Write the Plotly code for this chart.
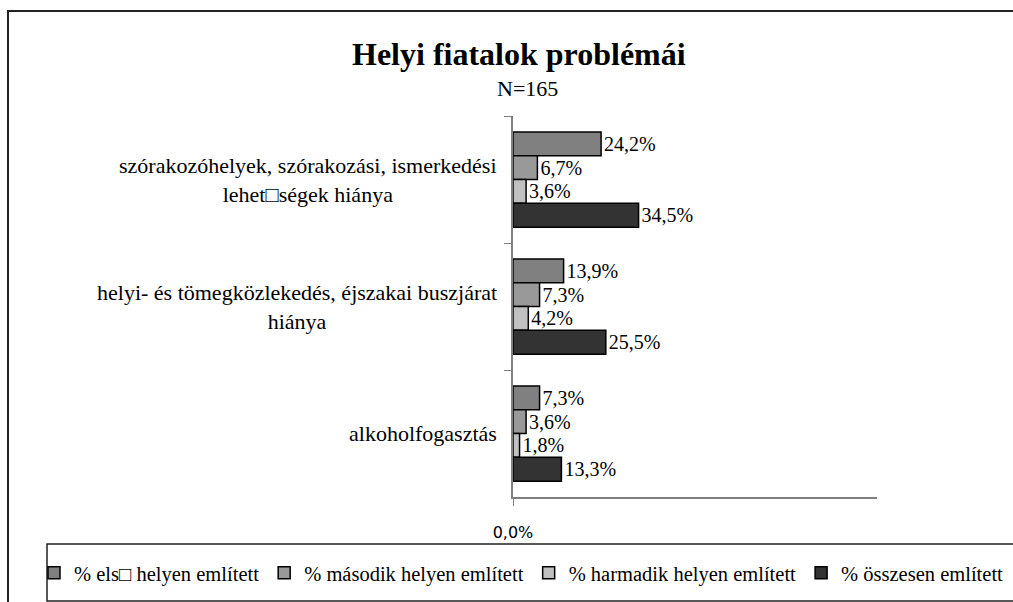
import plotly.graph_objects as go

W, H = 1013, 602

categories = [
    "szórakozóhelyek, szórakozási, ismerkedési<br>lehet□ségek hiánya",
    "helyi- és tömegközlekedés, éjszakai buszjárat<br>hiánya",
    "alkoholfogasztás",
]
series_names = [
    "% els□ helyen említett",
    "% második helyen említett",
    "% harmadik helyen említett",
    "% összesen említett",
]
first_place = [24.2, 13.9, 7.3]
second_place = [6.7, 7.3, 3.6]
third_place = [3.6, 4.2, 1.8]
total = [34.5, 25.5, 13.3]

series_values = [first_place, second_place, third_place, total]
colors = ["#808080", "#999999", "#c0c0c0", "#333333"]

SERIF = "Liberation Serif, serif"


def px_x(x):
    return x / W


def px_y(y):
    return 1 - y / H


fig = go.Figure()
for name, vals, col in zip(series_names, series_values, colors):
    fig.add_trace(
        go.Bar(
            y=categories,
            x=vals,
            name=name,
            orientation="h",
            marker=dict(color=col, line=dict(color="black", width=1.5)),
            texttemplate="%{x:.1f}%",
            textposition="outside",
            constraintext="none",
            cliponaxis=False,
            textfont=dict(family=SERIF, size=20, color="black"),
            hoverinfo="skip",
        )
    )

# category labels, centred lines, right-aligned against the axis
for cat in categories:
    fig.add_annotation(
        x=px_x(499), xref="paper", xanchor="right",
        y=cat, yref="y", yanchor="middle",
        text=cat, showarrow=False, align="center",
        font=dict(family=SERIF, size=22, color="black"),
    )

fig.add_annotation(
    x=px_x(519), xref="paper", xanchor="center",
    y=px_y(54), yref="paper", yanchor="middle",
    text="<b>Helyi fiatalok problémái</b>", showarrow=False,
    font=dict(family=SERIF, size=32, color="black"),
)
fig.add_annotation(
    x=px_x(527), xref="paper", xanchor="center",
    y=px_y(88), yref="paper", yanchor="middle",
    text="N=165", showarrow=False,
    font=dict(family=SERIF, size=22, color="black"),
)

# outer frame and legend box
fig.add_shape(type="rect", xref="paper", yref="paper",
              x0=px_x(8), x1=px_x(1040), y0=px_y(11), y1=px_y(640),
              line=dict(color="#222222", width=2), layer="below")
fig.add_shape(type="rect", xref="paper", yref="paper",
              x0=px_x(47), x1=px_x(1040), y0=px_y(544), y1=px_y(601),
              line=dict(color="#222222", width=1.5), layer="below")

fig.update_layout(
    width=W, height=H,
    margin=dict(l=0, r=0, t=0, b=0, pad=0),
    paper_bgcolor="white", plot_bgcolor="white",
    barmode="group", bargap=0.25, bargroupgap=0,
    separators=", ",
    showlegend=True,
    legend=dict(
        orientation="h", x=px_x(34), xanchor="left",
        y=px_y(573), yanchor="middle",
        font=dict(family=SERIF, size=20.5, color="black"),
        traceorder="normal", bgcolor="rgba(0,0,0,0)",
        itemwidth=30, tracegroupgap=0,
    ),
)
fig.update_xaxes(
    domain=[px_x(513), px_x(877)], range=[0, 100],
    automargin=False,
    showgrid=False, zeroline=False,
    showline=True, linecolor="#808080", linewidth=1.5,
    tickvals=[0], ticktext=["0,0%"],
    ticks="outside", ticklen=7, tickcolor="#808080",
    ticklabelstandoff=13,
    tickfont=dict(family="DejaVu Sans", size=16, color="black"),
)
fig.update_yaxes(
    domain=[px_y(497), px_y(116)], autorange="reversed",
    automargin=False,
    showgrid=False, zeroline=False,
    showline=True, linecolor="#808080", linewidth=1.5,
    ticks="outside", ticklen=7, tickcolor="#808080", tickson="boundaries",
    showticklabels=False,
)

fig.write_html(
    "out.html",
    config={"displayModeBar": False},
    post_script="document.body.style.margin='0';document.body.style.overflow='hidden';",
)
